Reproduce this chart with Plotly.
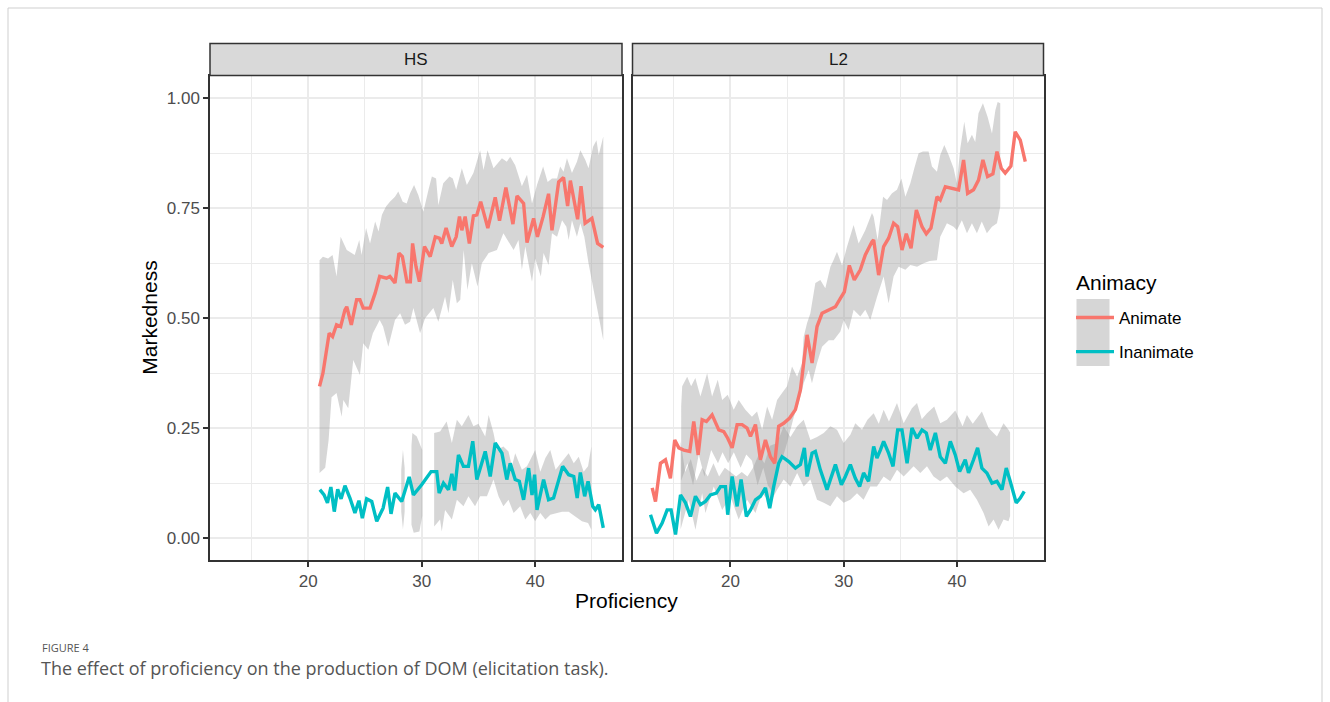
import plotly.graph_objects as go

# ---------------- data ----------------
# HS panel, Animate: mean line
hs_ani_x = [21.0, 21.3, 21.85, 22.15, 22.5, 22.86, 23.24, 23.4, 23.8, 24.27, 24.56, 24.85, 25.45, 25.9, 26.3,
            26.9, 27.2, 27.65, 28.0, 28.3, 28.7, 29.0, 29.2, 29.5, 29.8, 30.25, 30.75, 31.2, 31.56, 31.77,
            32.15, 32.65, 33.04, 33.33, 33.54, 33.83, 34.2, 34.56, 34.86, 35.2, 35.83, 36.48, 36.86, 37.42,
            38.04, 38.4, 38.98, 39.28, 39.86, 40.2, 40.7, 41.18, 41.48, 42.07, 42.5, 42.86, 43.1, 43.74,
            44.04, 44.4, 45.0, 45.5, 46.0]
hs_ani_y = [0.345, 0.375, 0.466, 0.458, 0.485, 0.481, 0.519, 0.526, 0.485, 0.542, 0.542, 0.523, 0.523, 0.557,
            0.595, 0.591, 0.595, 0.58, 0.648, 0.64, 0.583, 0.583, 0.67, 0.617, 0.583, 0.663, 0.64, 0.685,
            0.682, 0.67, 0.705, 0.663, 0.685, 0.731, 0.70, 0.731, 0.67, 0.733, 0.735, 0.765, 0.705, 0.775,
            0.722, 0.797, 0.714, 0.778, 0.761, 0.672, 0.727, 0.685, 0.731, 0.783, 0.70, 0.81, 0.82, 0.755,
            0.813, 0.725, 0.80, 0.716, 0.727, 0.67, 0.661]
# HS panel, Animate: confidence band (upper / lower edges)
hs_ani_hi_x = [21.0, 21.3, 21.75, 22.15, 22.5, 22.86, 23.4, 24.1, 24.5, 24.7, 25.1, 25.45, 25.9, 26.2, 26.5,
               26.86, 27.2, 27.65, 27.94, 28.33, 28.68, 28.98, 29.33, 29.7, 30.15, 30.6, 30.9, 31.27, 31.47,
               31.9, 32.45, 32.74, 33.04, 33.54, 33.98, 34.56, 35.15, 35.45, 35.8, 36.33, 37.07, 37.5, 37.8,
               38.24, 38.83, 39.28, 39.72, 40.16, 40.7, 41.1, 41.48, 41.93, 42.2, 42.5, 42.8, 43.24, 43.68,
               43.98, 44.42, 44.7, 45.1, 45.4, 45.6, 46.0]
hs_ani_hi = [0.632, 0.64, 0.636, 0.644, 0.595, 0.685, 0.655, 0.644, 0.678, 0.644, 0.705, 0.67, 0.72, 0.697,
             0.735, 0.754, 0.765, 0.776, 0.788, 0.765, 0.761, 0.784, 0.803, 0.78, 0.742, 0.792, 0.822, 0.818,
             0.757, 0.807, 0.822, 0.818, 0.792, 0.841, 0.803, 0.83, 0.882, 0.837, 0.882, 0.841, 0.864, 0.856,
             0.867, 0.848, 0.80, 0.826, 0.761, 0.803, 0.845, 0.81, 0.818, 0.818, 0.845, 0.833, 0.864, 0.83,
             0.856, 0.882, 0.86, 0.841, 0.89, 0.905, 0.871, 0.913]
hs_ani_lo_x = [21.0, 21.5, 21.8, 22.06, 22.5, 22.95, 23.1, 23.53, 23.97, 24.56, 24.85, 25.3, 25.7, 26.3, 26.6,
               27.06, 27.65, 28.1, 28.53, 28.98, 29.27, 29.86, 30.3, 31.03, 31.47, 32.06, 32.36, 32.74, 33.1,
               33.4, 33.7, 34.03, 34.42, 34.92, 35.3, 35.9, 36.63, 37.2, 38.1, 38.53, 38.83, 39.13, 39.72,
               40.0, 40.5, 40.74, 41.18, 41.48, 41.93, 42.37, 42.75, 42.95, 43.24, 43.68, 43.98, 44.33, 44.7,
               45.15, 45.6, 46.0]
hs_ani_lo = [0.148, 0.16, 0.223, 0.32, 0.33, 0.276, 0.314, 0.295, 0.405, 0.371, 0.443, 0.428, 0.466, 0.496,
             0.481, 0.435, 0.496, 0.511, 0.485, 0.492, 0.523, 0.466, 0.50, 0.523, 0.492, 0.549, 0.511, 0.587,
             0.534, 0.542, 0.655, 0.564, 0.625, 0.572, 0.625, 0.648, 0.655, 0.693, 0.655, 0.678, 0.61, 0.663,
             0.583, 0.636, 0.595, 0.648, 0.621, 0.693, 0.685, 0.723, 0.708, 0.678, 0.723, 0.685, 0.716, 0.685,
             0.625, 0.564, 0.504, 0.45]

# HS panel, Inanimate: mean line
hs_ina_x = [21.03, 21.4, 21.7, 22.0, 22.3, 22.6, 22.9, 23.24, 23.68, 24.12, 24.47, 24.77, 25.15, 25.6, 26.04,
            26.6, 27.0, 27.3, 27.65, 28.24, 28.9, 29.27, 30.0, 30.83, 31.33, 31.54, 31.92, 32.36, 32.66, 32.9,
            33.24, 33.68, 34.12, 34.5, 34.86, 35.15, 35.6, 36.04, 36.48, 37.07, 37.5, 37.8, 38.24, 38.6,
            38.98, 39.42, 39.72, 39.95, 40.16, 40.74, 41.18, 41.62, 42.07, 42.42, 42.95, 43.4, 43.7, 43.98,
            44.36, 44.66, 45.07, 45.3, 45.6, 46.0]
hs_ina_y = [0.11, 0.098, 0.08, 0.116, 0.06, 0.111, 0.089, 0.119, 0.091, 0.057, 0.085, 0.045, 0.089, 0.083,
            0.038, 0.068, 0.116, 0.055, 0.102, 0.083, 0.139, 0.098, 0.121, 0.151, 0.151, 0.102, 0.125, 0.11,
            0.146, 0.108, 0.189, 0.163, 0.163, 0.22, 0.133, 0.159, 0.197, 0.14, 0.216, 0.193, 0.133, 0.17,
            0.133, 0.129, 0.087, 0.159, 0.098, 0.144, 0.064, 0.133, 0.087, 0.091, 0.133, 0.163, 0.144, 0.14,
            0.091, 0.149, 0.095, 0.129, 0.072, 0.064, 0.076, 0.023]
# HS panel, Inanimate: band (None = gap between band pieces)
hs_ina_hi_x = [28.2, 28.35, 28.5, None, 29.1, 29.18, 29.57, 30.05, None,
               31.1, 31.62, 32.2, 32.66, 33.1, 33.54, 34.12, 34.56, 35.0, 35.6, 35.9, 36.33, 36.63, 37.2, 37.65,
               37.95, 38.24, 38.83, 39.28, 40.0, 40.45, 40.9, 41.33, 41.8, 42.37, 42.95, 43.4, 43.84, 44.27,
               44.66, 44.95]
hs_ina_hi = [0.155, 0.2, 0.16, None, 0.21, 0.239, 0.231, 0.20, None,
             0.239, 0.242, 0.265, 0.216, 0.269, 0.254, 0.28, 0.254, 0.26, 0.231, 0.28, 0.239, 0.20, 0.208,
             0.197, 0.163, 0.193, 0.155, 0.163, 0.20, 0.151, 0.182, 0.20, 0.155, 0.174, 0.193, 0.17, 0.185,
             0.151, 0.163, 0.208]
hs_ina_lo_x = [28.2, 28.35, 28.5, None, 29.1, 29.3, 29.8, 30.05, None,
               31.1, 31.62, 31.77, 32.06, 32.66, 33.1, 33.68, 34.12, 34.7, 35.15, 35.75, 36.33, 36.77, 37.2,
               37.65, 38.1, 38.68, 39.13, 39.57, 40.0, 40.45, 40.9, 41.33, 41.93, 42.37, 42.95, 43.53, 44.12,
               44.66, 44.95]
hs_ina_lo = [0.06, 0.02, 0.06, None, 0.03, 0.012, 0.015, 0.05, None,
             0.026, 0.042, 0.015, 0.064, 0.042, 0.087, 0.072, 0.095, 0.072, 0.095, 0.095, 0.133, 0.095,
             0.072, 0.087, 0.057, 0.072, 0.042, 0.057, 0.038, 0.057, 0.042, 0.053, 0.057, 0.06, 0.06, 0.049,
             0.038, 0.034, 0.019]

# L2 panel, Animate: mean line
l2_ani_x = [13.09, 13.38, 13.82, 14.26, 14.7, 15.08, 15.44, 15.88, 16.41, 16.76, 17.15, 17.5, 17.88, 18.38,
            18.97, 19.41, 19.76, 20.15, 20.59, 21.03, 21.47, 21.77, 22.21, 22.65, 23.09, 23.53, 23.91, 24.26,
            24.7, 25.23, 25.74, 26.18, 26.47, 26.77, 27.21, 27.65, 28.09, 28.68, 29.27, 29.71, 30.06, 30.5,
            30.94, 31.47, 31.91, 32.5, 32.65, 33.09, 33.53, 33.97, 34.41, 34.77, 35.15, 35.53, 35.95, 36.42,
            36.92, 37.3, 37.71, 38.24, 38.53, 38.98, 39.57, 40.15, 40.59, 40.95, 41.47, 41.91, 42.3, 42.71,
            43.18, 43.54, 43.92, 44.27, 44.77, 45.15, 45.6, 46.04]
l2_ani_y = [0.114, 0.083, 0.17, 0.178, 0.136, 0.223, 0.205, 0.20, 0.197, 0.265, 0.189, 0.269, 0.265, 0.28,
            0.246, 0.242, 0.227, 0.205, 0.258, 0.258, 0.25, 0.231, 0.258, 0.178, 0.223, 0.185, 0.17, 0.254,
            0.261, 0.273, 0.292, 0.337, 0.398, 0.462, 0.398, 0.481, 0.511, 0.519, 0.526, 0.545, 0.56, 0.62,
            0.587, 0.61, 0.644, 0.674, 0.678, 0.598, 0.663, 0.682, 0.716, 0.708, 0.655, 0.692, 0.659, 0.746,
            0.708, 0.692, 0.705, 0.776, 0.769, 0.799, 0.795, 0.792, 0.86, 0.784, 0.792, 0.814, 0.86, 0.822,
            0.828, 0.879, 0.841, 0.83, 0.846, 0.924, 0.905, 0.856]
# L2 panel, Animate: band
l2_ani_hi_x = [15.65, 15.74, 16.18, 16.53, 16.9, 17.35, 17.94, 18.38, 18.88, 19.27, 19.76, 20.29, 20.73, 21.32,
               21.9, 22.35, 22.8, 23.24, 23.68, 24.12, 24.56, 25.0, 25.44, 25.89, 26.33, 26.47, 26.77, 27.06,
               27.5, 27.94, 28.38, 28.83, 29.12, 29.41, 29.86, 30.3, 30.88, 31.32, 31.91, 32.5, 32.65, 33.0,
               33.48, 33.83, 34.27, 34.71, 35.1, 35.45, 35.89, 36.24, 36.62, 37.0, 37.5, 37.8, 38.24, 38.53,
               38.89, 39.27, 39.71, 40.0, 40.3, 40.65, 40.95, 41.33, 41.62, 41.91, 42.3, 42.71, 43.1, 43.4,
               43.6, 43.83]
l2_ani_hi = [0.30, 0.345, 0.367, 0.345, 0.364, 0.322, 0.375, 0.322, 0.36, 0.314, 0.326, 0.292, 0.314, 0.292,
             0.276, 0.288, 0.246, 0.299, 0.269, 0.314, 0.33, 0.345, 0.39, 0.367, 0.398, 0.458, 0.489, 0.511,
             0.58, 0.587, 0.568, 0.617, 0.633, 0.651, 0.62, 0.663, 0.712, 0.67, 0.70, 0.739, 0.731, 0.678,
             0.776, 0.769, 0.784, 0.792, 0.818, 0.776, 0.807, 0.841, 0.875, 0.879, 0.879, 0.845, 0.833, 0.871,
             0.894, 0.871, 0.841, 0.807, 0.886, 0.947, 0.898, 0.917, 0.901, 0.966, 0.989, 0.958, 0.92, 0.973,
             0.992, 0.989]
l2_ani_lo_x = [15.65, 16.2, 16.7, 17.2, 17.7, 18.3, 18.9, 19.3, 19.8, 20.3, 20.9, 21.4, 21.9, 22.4, 22.9, 23.3,
               23.8, 24.3, 24.7, 25.0, 25.6, 26.03, 26.47, 26.91, 27.2, 27.65, 28.09, 28.68, 29.12, 29.71,
               30.0, 30.44, 30.88, 31.47, 31.91, 32.35, 32.95, 33.53, 33.97, 34.41, 34.85, 35.45, 35.89, 36.48,
               37.06, 37.59, 38.24, 38.53, 39.12, 39.71, 40.0, 40.44, 40.89, 41.33, 41.77, 42.2, 42.65, 43.1,
               43.54, 43.83]
l2_ani_lo = [0.13, 0.17, 0.12, 0.19, 0.14, 0.20, 0.17, 0.195, 0.17, 0.195, 0.16, 0.19, 0.176, 0.12, 0.16, 0.12,
             0.10, 0.17, 0.19, 0.216, 0.276, 0.307, 0.352, 0.382, 0.352, 0.398, 0.435, 0.45, 0.45, 0.47, 0.496,
             0.473, 0.519, 0.504, 0.519, 0.496, 0.549, 0.595, 0.534, 0.595, 0.617, 0.61, 0.621, 0.617, 0.625,
             0.63, 0.632, 0.685, 0.716, 0.708, 0.70, 0.723, 0.693, 0.716, 0.693, 0.72, 0.693, 0.708, 0.716,
             0.754]

# L2 panel, Inanimate: mean line
l2_ina_x = [12.94, 13.47, 13.97, 14.41, 14.76, 15.15, 15.59, 16.03, 16.47, 16.91, 17.35, 17.79, 18.23, 18.76,
            19.12, 19.56, 19.76, 20.15, 20.59, 20.94, 21.41, 21.77, 22.21, 22.65, 23.09, 23.47, 23.82, 24.26,
            24.56, 25.15, 25.74, 26.18, 26.53, 26.77, 27.21, 27.5, 27.94, 28.53, 29.27, 29.8, 30.15, 30.59,
            31.03, 31.41, 31.76, 32.2, 32.65, 32.94, 33.24, 33.53, 33.97, 34.36, 34.77, 35.15, 35.6, 36.03,
            36.48, 36.92, 37.3, 37.65, 38.1, 38.53, 38.98, 39.42, 39.86, 40.24, 40.74, 41.03, 41.47, 41.83,
            42.21, 42.65, 43.1, 43.54, 43.98, 44.36, 44.71, 45.24, 45.6, 45.95]
l2_ina_y = [0.053, 0.011, 0.034, 0.064, 0.064, 0.008, 0.098, 0.08, 0.049, 0.095, 0.076, 0.083, 0.098, 0.102,
            0.117, 0.117, 0.053, 0.14, 0.072, 0.133, 0.049, 0.064, 0.087, 0.095, 0.114, 0.068, 0.117, 0.17,
            0.185, 0.174, 0.159, 0.167, 0.205, 0.14, 0.193, 0.197, 0.155, 0.11, 0.167, 0.121, 0.14, 0.167,
            0.136, 0.117, 0.148, 0.129, 0.208, 0.182, 0.20, 0.22, 0.193, 0.163, 0.246, 0.246, 0.17, 0.25,
            0.227, 0.246, 0.239, 0.20, 0.239, 0.185, 0.17, 0.22, 0.189, 0.151, 0.178, 0.148, 0.178, 0.205,
            0.159, 0.148, 0.125, 0.129, 0.11, 0.159, 0.129, 0.08, 0.091, 0.106]
# L2 panel, Inanimate: band
l2_ina_hi_x = [15.6, 16.0, 16.5, 17.0, 17.5, 18.0, 18.5, 19.0, 19.5, 20.0, 20.5, 21.0, 21.5, 22.0, 22.5, 23.0,
               23.5, 24.12, 24.7, 25.3, 25.89, 26.47, 27.06, 27.65, 28.24, 28.83, 29.41, 30.0, 30.59, 31.03,
               31.62, 32.1, 32.65, 33.1, 33.53, 34.0, 34.71, 35.3, 36.03, 36.48, 36.9, 37.36, 38.0, 38.53,
               39.12, 39.86, 40.5, 40.89, 41.4, 42.21, 42.8, 43.54, 44.12, 44.56, 44.7]
l2_ina_hi = [0.22, 0.15, 0.18, 0.13, 0.16, 0.14, 0.17, 0.14, 0.16, 0.15, 0.14, 0.15, 0.14, 0.16, 0.19, 0.17,
             0.21, 0.216, 0.254, 0.23, 0.254, 0.269, 0.223, 0.23, 0.239, 0.254, 0.246, 0.216, 0.235, 0.261,
             0.246, 0.269, 0.284, 0.26, 0.292, 0.265, 0.307, 0.261, 0.295, 0.307, 0.27, 0.284, 0.299, 0.261,
             0.269, 0.29, 0.254, 0.28, 0.26, 0.288, 0.25, 0.231, 0.261, 0.246, 0.24]
l2_ina_lo_x = [15.6, 16.32, 16.91, 17.5, 17.79, 18.53, 19.27, 20.0, 20.73, 21.47, 22.21, 22.8, 23.53, 24.12,
               24.7, 25.3, 25.89, 26.47, 27.06, 27.65, 28.24, 28.83, 29.41, 30.0, 30.59, 31.18, 31.76, 32.35,
               32.94, 33.53, 34.12, 34.71, 35.3, 36.18, 36.77, 37.36, 37.94, 38.53, 39.12, 39.86, 40.59, 41.18,
               41.77, 42.36, 42.8, 43.24, 43.68, 44.12, 44.56, 44.7]
l2_ina_lo = [0.02, 0.087, 0.019, 0.102, 0.057, 0.117, 0.064, 0.095, 0.042, 0.087, 0.057, 0.102, 0.08, 0.11,
             0.133, 0.117, 0.148, 0.117, 0.133, 0.087, 0.08, 0.072, 0.095, 0.08, 0.087, 0.102, 0.087, 0.117,
             0.117, 0.14, 0.129, 0.155, 0.14, 0.163, 0.148, 0.163, 0.14, 0.129, 0.14, 0.117, 0.102, 0.11,
             0.087, 0.057, 0.026, 0.042, 0.019, 0.042, 0.038, 0.05]

panel_labels = ["HS", "L2"]
series_names = ["Animate", "Inanimate"]
y_tick_vals = [0.0, 0.25, 0.5, 0.75, 1.0]
x_tick_vals = [20, 30, 40]

# ---------------- styling ----------------
W, H = 1330, 702
COL = {"Animate": "#F8766D", "Inanimate": "#00BFC4"}
BAND = "rgba(153,153,153,0.4)"
FONT = "Liberation Sans, Arial, Helvetica, sans-serif"
GRID = "#ebebeb"
BORDER = "#333333"

# panel geometry in pixels
P_LEFT = [210, 622]
P_RIGHT = [632.5, 1043.5]
P_TOP, P_BOT = 75.5, 560
STRIP_TOP = 43.5


def px(x):
    return x / W


def py(y):
    return 1 - y / H


def split_none(xs, ys):
    segs, cx, cy = [], [], []
    for a, b in zip(xs, ys):
        if a is None:
            if cx:
                segs.append((cx, cy))
            cx, cy = [], []
        else:
            cx.append(a)
            cy.append(b)
    if cx:
        segs.append((cx, cy))
    return segs


def band_polygon(hx, hy, lx, ly):
    px_, py_ = [], []
    for (ux, uy), (dx, dy) in zip(split_none(hx, hy), split_none(lx, ly)):
        px_ += ux + dx[::-1] + [None]
        py_ += uy + dy[::-1] + [None]
    return px_, py_


fig = go.Figure()

panels = [
    ("x", "y", [(hs_ani_hi_x, hs_ani_hi, hs_ani_lo_x, hs_ani_lo), (hs_ina_hi_x, hs_ina_hi, hs_ina_lo_x, hs_ina_lo)],
     [(hs_ani_x, hs_ani_y), (hs_ina_x, hs_ina_y)]),
    ("x2", "y2", [(l2_ani_hi_x, l2_ani_hi, l2_ani_lo_x, l2_ani_lo), (l2_ina_hi_x, l2_ina_hi, l2_ina_lo_x, l2_ina_lo)],
     [(l2_ani_x, l2_ani_y), (l2_ina_x, l2_ina_y)]),
]

for pi, (xa, ya, bands, lines) in enumerate(panels):
    for bdat in bands:
        bx, by = band_polygon(*bdat)
        fig.add_trace(go.Scatter(x=bx, y=by, xaxis=xa, yaxis=ya, mode="none", fill="toself",
                                 fillcolor=BAND, hoverinfo="skip", showlegend=False))
    for si, (lx, ly) in enumerate(lines):
        name = series_names[si]
        fig.add_trace(go.Scatter(x=lx, y=ly, xaxis=xa, yaxis=ya, mode="lines", name=name,
                                 legendgroup=name, showlegend=(pi == 0),
                                 line=dict(color=COL[name], width=3.4)))

xrange_ = [11.35, 47.65]
yrange_ = [-0.05, 1.052]

common_x = dict(range=xrange_, tickvals=x_tick_vals, ticks="outside", ticklen=5, tickwidth=1.5,
                tickcolor=BORDER, showline=True, mirror=True, linecolor=BORDER, linewidth=1.5,
                showgrid=True, gridcolor=GRID, gridwidth=2.2, zeroline=False,
                minor=dict(tickvals=[15, 25, 35, 45], showgrid=True, gridcolor=GRID, gridwidth=1.3, ticks=""),
                tickfont=dict(family=FONT, size=17, color="#4d4d4d"), fixedrange=True)
common_y = dict(range=yrange_, tickvals=y_tick_vals, tickformat=".2f", showline=True, mirror=True,
                linecolor=BORDER, linewidth=1.5, showgrid=True, gridcolor=GRID, gridwidth=2.2, zeroline=False,
                minor=dict(tickvals=[0.125, 0.375, 0.625, 0.875], showgrid=True, gridcolor=GRID,
                           gridwidth=1.3, ticks=""),
                tickfont=dict(family=FONT, size=17, color="#4d4d4d"), fixedrange=True,
                domain=[py(P_BOT), py(P_TOP)])

fig.update_layout(
    width=W, height=H, margin=dict(l=0, r=0, t=0, b=0),
    paper_bgcolor="white", plot_bgcolor="white",
    font=dict(family=FONT, color="black"),
    xaxis=dict(domain=[px(P_LEFT[0]), px(P_LEFT[1])], anchor="y", **common_x),
    xaxis2=dict(domain=[px(P_RIGHT[0]), px(P_RIGHT[1])], anchor="y2", **common_x),
    yaxis=dict(anchor="x", ticks="outside", ticklen=5, tickwidth=1.5, tickcolor=BORDER, **common_y),
    yaxis2=dict(anchor="x2", matches="y", showticklabels=False, ticks="", **common_y),
    legend=dict(x=px(1071), y=py(300), xanchor="left", yanchor="top", itemwidth=38,
                font=dict(family=FONT, size=17, color="black"), tracegroupgap=9,
                bgcolor="rgba(0,0,0,0)", itemclick=False, itemdoubleclick=False),
    showlegend=True,
)

shapes = []
annotations = []
# facet strips
for (x0, x1), lab in zip([P_LEFT, P_RIGHT], panel_labels):
    shapes.append(dict(type="rect", xref="paper", yref="paper", x0=px(x0), x1=px(x1),
                       y0=py(P_TOP), y1=py(STRIP_TOP), fillcolor="#d9d9d9",
                       line=dict(color=BORDER, width=1.5), layer="above"))
    annotations.append(dict(text=lab, xref="paper", yref="paper", x=px((x0 + x1) / 2),
                            y=py((P_TOP + STRIP_TOP) / 2), showarrow=False,
                            font=dict(family=FONT, size=17, color="#1a1a1a"),
                            xanchor="center", yanchor="middle"))
# legend title and key background
annotations.append(dict(text="Animacy", xref="paper", yref="paper", x=px(1074), y=py(282), showarrow=False,
                        font=dict(family=FONT, size=21, color="black"), xanchor="left", yanchor="middle"))
shapes.append(dict(type="rect", xref="paper", yref="paper", x0=px(1076.5), x1=px(1109.5),
                   y0=py(366), y1=py(299), fillcolor="#d6d6d6", line=dict(width=0), layer="above"))
# outer frame of the figure box
shapes.append(dict(type="path", xref="paper", yref="paper",
                   path=f"M {px(8)},{py(702)} L {px(8)},{py(8)} L {px(1322)},{py(8)} L {px(1322)},{py(702)}",
                   line=dict(color="#cfcfcf", width=1)))

# axis titles
annotations.append(dict(text="Proficiency", xref="paper", yref="paper", x=px((P_LEFT[0] + P_RIGHT[1]) / 2),
                        y=py(600), showarrow=False, font=dict(family=FONT, size=21, color="black"),
                        xanchor="center", yanchor="middle"))
annotations.append(dict(text="Markedness", xref="paper", yref="paper", x=px(150),
                        y=py((P_TOP + P_BOT) / 2), showarrow=False, textangle=-90,
                        font=dict(family=FONT, size=21, color="black"), xanchor="center", yanchor="middle"))
# caption
annotations.append(dict(text="FIGURE 4", xref="paper", yref="paper", x=px(40), y=py(647), showarrow=False,
                        font=dict(family="Open Sans, sans-serif", size=11, color="#555555"),
                        xanchor="left", yanchor="middle"))
annotations.append(dict(text="The effect of proficiency on the production of DOM (elicitation task).",
                        xref="paper", yref="paper", x=px(39), y=py(668), showarrow=False,
                        font=dict(family="Open Sans, sans-serif", size=18, color="#555555"),
                        xanchor="left", yanchor="middle"))

fig.update_layout(shapes=shapes, annotations=annotations)

fig.write_html("out.html")
